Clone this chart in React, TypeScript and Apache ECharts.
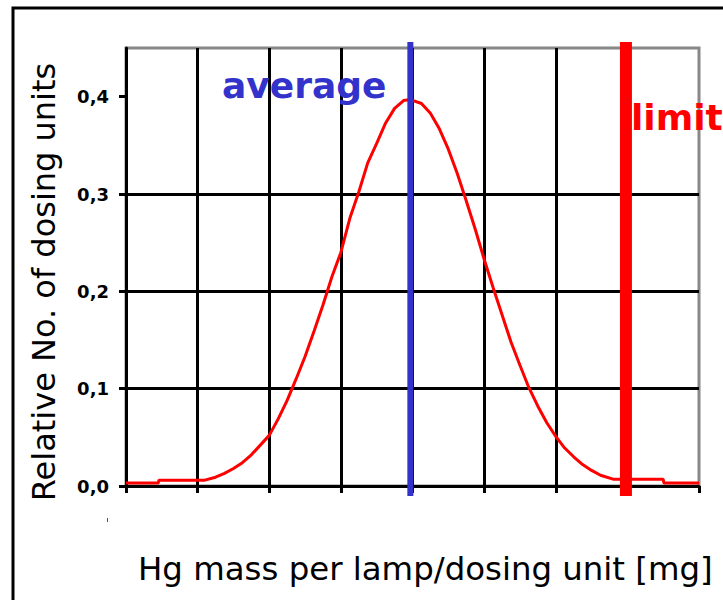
import React, { useEffect, useRef } from "react";
import * as echarts from "echarts";

// Curve (x in grid units 0..8, y = relative number)
const xValues = [
  0, 0.45, 0.46, 1.1, 1.25, 1.375, 1.5, 1.625, 1.75, 1.875, 2.0, 2.125, 2.25, 2.375, 2.5, 2.625, 2.75, 2.875,
  3.0, 3.125, 3.25, 3.375, 3.5, 3.625, 3.75, 3.875, 3.97, 4.125, 4.25, 4.375, 4.5, 4.625, 4.75, 4.875,
  5.0, 5.125, 5.25, 5.375, 5.5, 5.625, 5.75, 5.875, 6.0, 6.125, 6.25, 6.375, 6.5, 6.625, 6.8, 7.5, 7.51, 8,
];
const yValues = [
  0.003, 0.003, 0.006, 0.006, 0.009, 0.013, 0.018, 0.024, 0.032, 0.042, 0.052, 0.069, 0.088, 0.110, 0.133, 0.159, 0.186, 0.215,
  0.240, 0.275, 0.302, 0.332, 0.352, 0.373, 0.388, 0.396, 0.397, 0.393, 0.383, 0.367, 0.346, 0.321, 0.293, 0.264,
  0.233, 0.204, 0.176, 0.148, 0.124, 0.101, 0.082, 0.065, 0.051, 0.039, 0.030, 0.022, 0.016, 0.011, 0.007, 0.007, 0.003, 0.003,
];
const yTicks = [0, 0.1, 0.2, 0.3, 0.4];
const averageX = 3.97;
const limitX = 6.98;
const yTitle = "Relative No. of dosing units";
const xTitle = "Hg mass per lamp/dosing unit [mg]";
const averageLabel = "average";
const limitLabel = "limit";

const FONT = "'DejaVu Sans', Verdana, sans-serif";

export default function App() {
  const ref = useRef<HTMLDivElement>(null);
  useEffect(() => {
    document.body.style.margin = "0";
    if (!ref.current) return;
    const chart = echarts.init(ref.current, null, { renderer: "svg" });
    const vLine = (color: string, width: number) => (params: any, api: any) => {
      const x = api.coord([api.value(0), 0])[0];
      const yBottom = api.coord([0, 0])[1];
      const yTop = api.coord([0, 0.45])[1];
      return {
        type: "line",
        shape: { x1: x, y1: yTop - 6, x2: x, y2: yBottom + 10 },
        style: { stroke: color, lineWidth: width },
      };
    };
    chart.setOption({
      animation: false,
      backgroundColor: "#ffffff",
      grid: {
        left: 126,
        right: 24,
        top: 48,
        bottom: 114,
        show: true,
        borderColor: "#888888",
        borderWidth: 3,
      },
      xAxis: {
        type: "value",
        min: 0,
        max: 8,
        interval: 1,
        axisLine: { show: true, onZero: false, lineStyle: { color: "#000", width: 3 } },
        axisTick: { show: true, length: 7, lineStyle: { color: "#000", width: 3 } },
        axisLabel: { show: false },
        splitLine: { show: true, showMaxLine: false, lineStyle: { color: "#000", width: 3 } },
      },
      yAxis: {
        type: "value",
        min: 0,
        max: 0.45,
        interval: 0.1,
        axisLine: { show: true, lineStyle: { color: "#000", width: 3 } },
        axisTick: { show: true, length: 7, customValues: yTicks, lineStyle: { color: "#000", width: 3 } },
        axisLabel: {
          show: true,
          customValues: yTicks,
          margin: 17,
          color: "#000",
          fontFamily: FONT,
          fontWeight: "bold",
          fontSize: 18,
          formatter: (v: number) => v.toFixed(1).replace(".", ","),
        },
        splitLine: { show: true, showMaxLine: false, lineStyle: { color: "#000", width: 3 } },
      },
      series: [
        {
          type: "line",
          data: xValues.map((x, i) => [x, yValues[i]]),
          showSymbol: false,
          symbol: "none",
          smooth: false,
          lineStyle: { color: "#ff0000", width: 3 },
          z: 3,
        },
        {
          type: "custom",
          data: [[averageX, 0]],
          renderItem: vLine("#3333cc", 6),
          clip: false,
          z: 4,
        },
        {
          type: "custom",
          data: [[limitX, 0]],
          renderItem: vLine("#ff0000", 12),
          clip: false,
          z: 4,
        },
      ],
      graphic: [
        {
          type: "rect",
          shape: { x: 13, y: 8, width: 800, height: 700 },
          style: { fill: "none", stroke: "#000", lineWidth: 3 },
          z: 10,
        },
        {
          type: "line",
          shape: { x1: 107.5, y1: 518, x2: 107.5, y2: 522 },
          style: { stroke: "#555", lineWidth: 1 },
        },
        {
          type: "text",
          x: 44,
          y: 282,
          rotation: Math.PI / 2,
          style: {
            text: yTitle,
            fontFamily: FONT,
            fontSize: 32,
            fill: "#000",
            align: "center",
            verticalAlign: "middle",
          },
        },
        {
          type: "text",
          x: 138,
          y: 569,
          style: {
            text: xTitle,
            fontFamily: FONT,
            fontSize: 32.4,
            fill: "#000",
            align: "left",
            verticalAlign: "middle",
          },
        },
        {
          type: "text",
          x: 222,
          y: 85.5,
          z: 5,
          style: {
            text: averageLabel,
            fontFamily: FONT,
            fontSize: 36,
            fontWeight: "bold",
            fill: "#3333cc",
            align: "left",
            verticalAlign: "middle",
          },
        },
        {
          type: "text",
          x: 631,
          y: 117.5,
          z: 5,
          style: {
            text: limitLabel,
            fontFamily: FONT,
            fontSize: 36,
            fontWeight: "bold",
            fill: "#ff0000",
            align: "left",
            verticalAlign: "middle",
          },
        },
      ],
    });
    return () => chart.dispose();
  }, []);
  return <div ref={ref} style={{ width: 723, height: 600 }} />;
}
